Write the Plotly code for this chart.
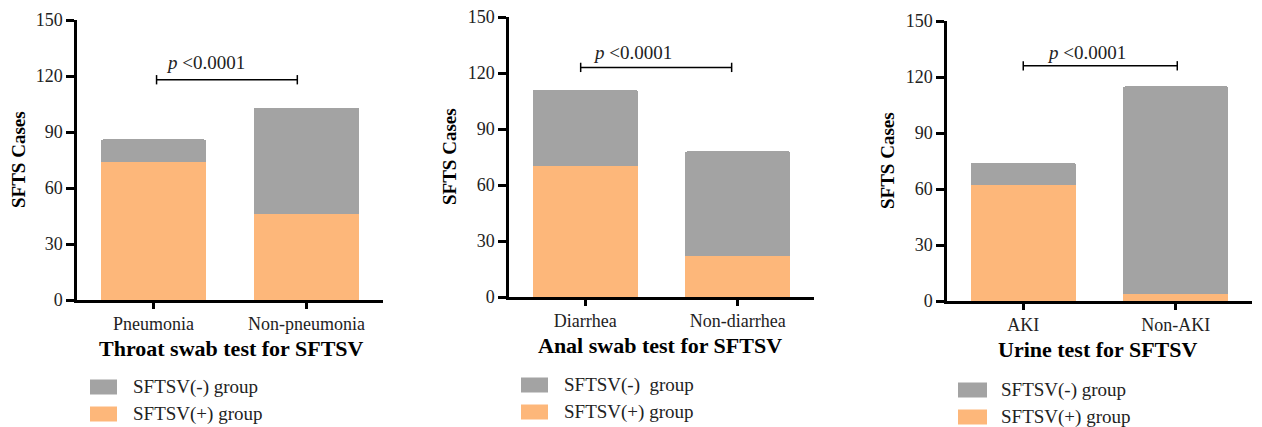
import plotly.graph_objects as go

# the page body adds an 8px margin, so the figure is drawn 8px smaller and offset
OFF = 8
W, H = 1262 - OFF, 427 - OFF

# ---------------- data ----------------
throat_categories = ["Pneumonia", "Non-pneumonia"]
throat_pos = [74, 46]    # SFTSV(+) group
throat_neg = [12, 57]    # SFTSV(-) group

anal_categories = ["Diarrhea", "Non-diarrhea"]
anal_pos = [70, 22]
anal_neg = [41, 56]

urine_categories = ["AKI", "Non-AKI"]
urine_pos = [62, 4]
urine_neg = [12, 111]

panel_titles = ["Throat swab test for SFTSV", "Anal swab test for SFTSV", "Urine test for SFTSV"]
neg_names = ["SFTSV(-) group", "SFTSV(-)\u00a0 group", "SFTSV(-) group"]
pos_name = "SFTSV(+) group"
p_text = "<i>p</i> &lt;0.0001"
y_ticks = [0, 30, 60, 90, 120, 150]
y_title = "SFTS Cases"

GRAY = "#A3A3A3"
ORANGE = "#FDB77A"
FONT = "Liberation Serif"


def fx(px):
    return (px - OFF) / W


def fy(py):
    return 1 - (py - OFF) / H


# ---------------- layout geometry (window pixels) ----------------
panels = [
    dict(cats=throat_categories, pos=throat_pos, neg=throat_neg,
         x=(77, 383), y=(20, 300), bracket=(0.02, 0.94, 118), ptext=(0.07, 127),
         ytitle_x=18, xtitle_y=348, xtitle_x=231,
         leg_sw=(90, 117), leg_y=(387, 414), leg_tx=131),
    dict(cats=anal_categories, pos=anal_pos, neg=anal_neg,
         x=(509, 814), y=(17, 297), bracket=(-0.03, 0.96, 123), ptext=(0.04, 131),
         ytitle_x=450, xtitle_y=345, xtitle_x=660,
         leg_sw=(521, 548), leg_y=(385, 412), leg_tx=562),
    dict(cats=urine_categories, pos=urine_pos, neg=urine_neg,
         x=(947, 1252), y=(21, 301), bracket=(0.0, 1.01, 126), ptext=(0.14, 133),
         ytitle_x=888, xtitle_y=349, xtitle_x=1098,
         leg_sw=(958, 987), leg_y=(390, 417), leg_tx=999),
]

fig = go.Figure()
shapes = []
annotations = []

for i, p in enumerate(panels):
    k = "" if i == 0 else str(i + 1)
    xa, ya = "x" + k, "y" + k
    fig.add_trace(go.Bar(x=p["cats"], y=p["pos"], marker_color=ORANGE, name=pos_name,
                         xaxis=xa, yaxis=ya, showlegend=False, marker_line_width=0))
    fig.add_trace(go.Bar(x=p["cats"], y=p["neg"], marker_color=GRAY, name=neg_names[i],
                         xaxis=xa, yaxis=ya, showlegend=False, marker_line_width=0))

    x0, x1 = p["x"]
    yt, yb = p["y"]
    fig.layout["xaxis" + k] = dict(
        domain=[fx(x0), fx(x1)], anchor=ya, type="category", range=[-0.5, 1.5],
        showline=True, linecolor="black", linewidth=2.5, ticks="outside", ticklen=6,
        tickwidth=2.5, tickcolor="black", showgrid=False, zeroline=False, automargin=False,
        ticklabeloverflow="allow",
        tickfont=dict(family=FONT, size=18, color="#222"))
    fig.layout["yaxis" + k] = dict(
        domain=[fy(yb), fy(yt)], anchor=xa, range=[0, 150], tickvals=y_ticks,
        showline=True, linecolor="black", linewidth=2.5, ticks="outside", ticklen=8,
        tickwidth=2.5, tickcolor="black", showgrid=False, zeroline=False, automargin=False,
        ticklabeloverflow="allow",
        tickfont=dict(family=FONT, size=18, color="#222"))

    # significance bracket
    bx0, bx1, by = p["bracket"]
    shapes.append(dict(type="line", xref=xa, yref=ya, x0=bx0, x1=bx1, y0=by, y1=by,
                       line=dict(color="black", width=1.5)))
    for bx in (bx0, bx1):
        shapes.append(dict(type="line", xref=xa, yref=ya, x0=bx, x1=bx, y0=by - 2.5, y1=by + 2.5,
                           line=dict(color="black", width=1.5)))
    tx, ty = p["ptext"]
    annotations.append(dict(text=p_text, xref=xa, yref=ya, x=tx, y=ty, xanchor="left",
                            yanchor="middle", showarrow=False,
                            font=dict(family=FONT, size=19, color="#222")))

    # axis titles
    annotations.append(dict(text="<b>" + y_title + "</b>", xref="paper", yref="paper",
                            x=fx(p["ytitle_x"]), y=fy((yt + yb) / 2), textangle=-90,
                            xanchor="center", yanchor="middle", showarrow=False,
                            font=dict(family=FONT, size=19, color="black")))
    annotations.append(dict(text="<b>" + panel_titles[i] + "</b>", xref="paper", yref="paper",
                            x=fx(p["xtitle_x"]), y=fy(p["xtitle_y"]),
                            xanchor="center", yanchor="middle", showarrow=False,
                            font=dict(family=FONT, size=22, color="black")))

    # legend
    sx0, sx1 = p["leg_sw"]
    for cy, col, name in ((p["leg_y"][0], GRAY, neg_names[i]), (p["leg_y"][1], ORANGE, pos_name)):
        shapes.append(dict(type="rect", xref="paper", yref="paper",
                           x0=fx(sx0), x1=fx(sx1), y0=fy(cy + 7.5), y1=fy(cy - 7.5),
                           fillcolor=col, line=dict(width=0)))
        annotations.append(dict(text=name, xref="paper", yref="paper",
                                x=fx(p["leg_tx"]), y=fy(cy), xanchor="left",
                                yanchor="middle", showarrow=False,
                                font=dict(family=FONT, size=19, color="#222")))

fig.update_layout(
    width=W, height=H, margin=dict(l=0, r=0, t=0, b=0, pad=0, autoexpand=False),
    barmode="stack", bargap=0.31, barcornerradius=2,
    plot_bgcolor="white", paper_bgcolor="white",
    shapes=shapes, annotations=annotations, showlegend=False,
)

fig.write_html("out.html")
